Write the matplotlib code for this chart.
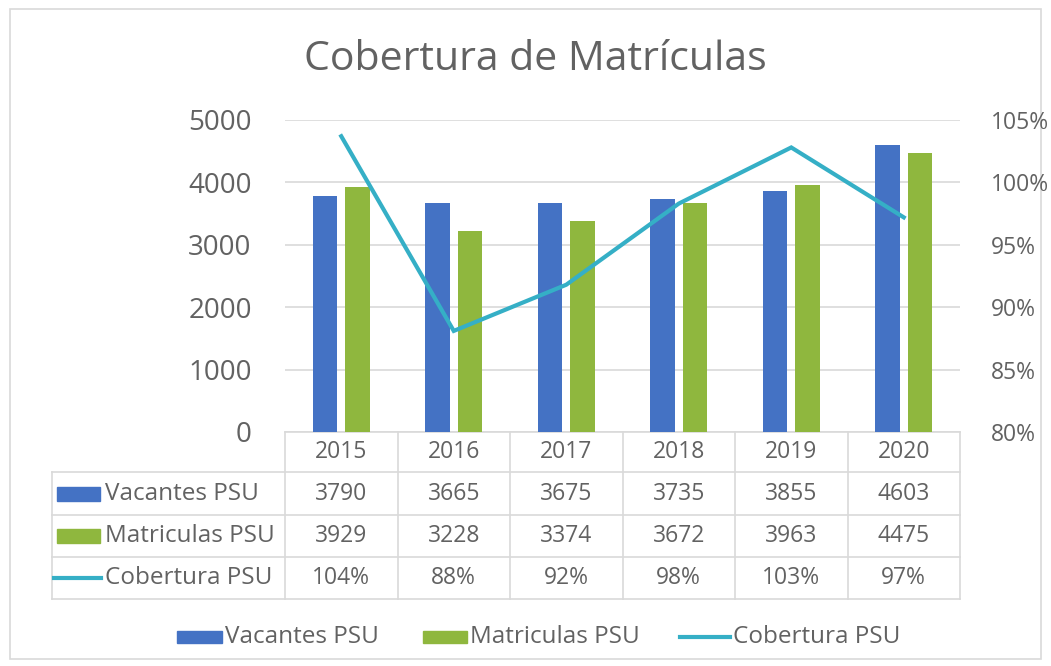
import matplotlib
matplotlib.use("Agg")
import matplotlib.pyplot as plt
from matplotlib.transforms import blended_transform_factory
from matplotlib.patches import Rectangle

years = ["2015", "2016", "2017", "2018", "2019", "2020"]
vacantes = [3790, 3665, 3675, 3735, 3855, 4603]
matriculas = [3929, 3228, 3374, 3672, 3963, 4475]
cobertura = [1.037, 0.881, 0.918, 0.983, 1.028, 0.972]
cobertura_labels = ["104%", "88%", "92%", "98%", "103%", "97%"]
left_ticks = [0, 1000, 2000, 3000, 4000, 5000]
right_ticks = [0.80, 0.85, 0.90, 0.95, 1.00, 1.05]
right_tick_labels = ["80%", "85%", "90%", "95%", "100%", "105%"]
series_names = ["Vacantes PSU", "Matriculas PSU", "Cobertura PSU"]

C_BLUE = "#4472C4"
C_GREEN = "#8FB73E"
C_LINE = "#35AFC6"
C_TEXT = "#626262"
C_GRID = "#D9D9D9"

plt.rcParams["font.family"] = ["Open Sans", "DejaVu Sans"]

W, H = 1051, 666
fig = plt.figure(figsize=(W / 100, H / 100), dpi=100)
fig.patch.set_facecolor("white")

# pixel overlay axes
tax = fig.add_axes([0, 0, 1, 1])
tax.set_xlim(0, W)
tax.set_ylim(H, 0)
tax.axis("off")

x0, x1, ytop, ybot = 285, 960, 120, 432
ax = fig.add_axes([x0 / W, 1 - ybot / H, (x1 - x0) / W, (ybot - ytop) / H])
ax.set_zorder(2)
ax.patch.set_alpha(0)
n = len(years)
xs = list(range(n))
bw = 0.22
off = 0.145
ax.bar([x - off for x in xs], vacantes, width=bw, color=C_BLUE, zorder=3)
ax.bar([x + off for x in xs], matriculas, width=bw, color=C_GREEN, zorder=3)
ax.set_xlim(-0.5, n - 0.5)
ax.set_ylim(0, 5000)
ax.set_yticks(left_ticks)
ax.set_yticklabels([str(t) for t in left_ticks], fontsize=20, color=C_TEXT)
ax.tick_params(axis="y", length=0, pad=24)
ax.set_xticks([])
for s in ax.spines.values():
    s.set_visible(False)
ax.yaxis.grid(True, color=C_GRID, linewidth=1.2, zorder=0)
ax.set_axisbelow(True)

ax2 = ax.twinx()
ax2.plot(xs, cobertura, color=C_LINE, linewidth=3, zorder=4, solid_joinstyle="miter")
ax2.set_ylim(0.80, 1.05)
ax2.set_yticks(right_ticks)
ax2.set_yticklabels(right_tick_labels, fontsize=16.5, color=C_TEXT)
ax2.tick_params(axis="y", length=0, pad=22)
for s in ax2.spines.values():
    s.set_visible(False)

# Data table
bt = blended_transform_factory(ax.transData, tax.transData)
row_lines = [472, 515, 557, 599]
table_left = 52
tax.plot([x0, x1], [432, 432], color=C_GRID, lw=1.2)
for y in row_lines:
    tax.plot([table_left, x1], [y, y], color=C_GRID, lw=1.2)
for i in range(n + 1):
    ax_x = i - 0.5
    tax.plot([ax_x, ax_x], [432, row_lines[-1]], color=C_GRID, lw=1.2, transform=bt)
tax.plot([table_left, table_left], [row_lines[0], row_lines[-1]], color=C_GRID, lw=1.2)

fs_tab = 16.5
fs_lab = 17.5
for i, yr in enumerate(years):
    tax.text(i, 452, yr, transform=bt, ha="center", va="center", fontsize=fs_tab, color=C_TEXT)
rows = [
    [str(v) for v in vacantes],
    [str(v) for v in matriculas],
    cobertura_labels,
]
row_centers = [(row_lines[k] + row_lines[k + 1]) / 2 for k in range(3)]
for r, vals in enumerate(rows):
    for i, v in enumerate(vals):
        tax.text(i, row_centers[r], v, transform=bt, ha="center", va="center", fontsize=fs_tab, color=C_TEXT)

# row labels with keys
for r, name in enumerate(series_names):
    yc = row_centers[r]
    if r < 2:
        tax.add_patch(Rectangle((57, yc - 7), 43, 14, color=[C_BLUE, C_GREEN][r]))
    else:
        tax.plot([54, 101], [yc, yc], color=C_LINE, lw=3)
    tax.text(105, yc, name, ha="left", va="center", fontsize=fs_lab, color=C_TEXT)

# Title
tax.text(535, 60, "Cobertura de Matrículas", ha="center", va="center", fontsize=29.5, color=C_TEXT)

# Legend
ly = 637
tax.add_patch(Rectangle((177, ly - 6), 45, 12, color=C_BLUE))
tax.text(225, ly, series_names[0], ha="left", va="center", fontsize=fs_lab, color=C_TEXT)
tax.add_patch(Rectangle((423, ly - 6), 44, 12, color=C_GREEN))
tax.text(470, ly, series_names[1], ha="left", va="center", fontsize=fs_lab, color=C_TEXT)
tax.plot([680, 730], [ly, ly], color=C_LINE, lw=3)
tax.text(733, ly, series_names[2], ha="left", va="center", fontsize=fs_lab, color=C_TEXT)

# outer frame
tax.add_patch(Rectangle((10, 9), 1031, 650, fill=False, edgecolor=C_GRID, lw=1.2))

fig.savefig("out.png", dpi=100, facecolor="white")
